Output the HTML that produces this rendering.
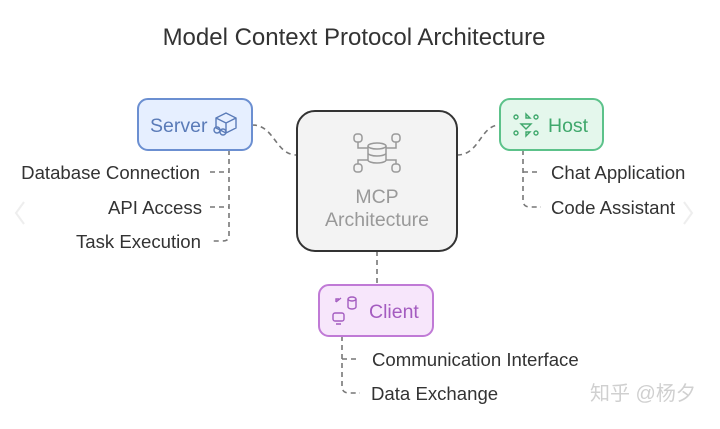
<!DOCTYPE html>
<html><head><meta charset="utf-8"><style>
body{margin:0;width:720px;height:424px;background:#fff;overflow:hidden;font-family:"Liberation Sans","Noto Sans CJK SC",sans-serif;}
</style></head><body>
<svg width="720" height="424" viewBox="0 0 720 424" xmlns="http://www.w3.org/2000/svg" font-family="Liberation Sans, Noto Sans CJK SC, sans-serif">
<text x="354" y="45" text-anchor="middle" font-size="24" fill="#333">Model Context Protocol Architecture</text>
<g fill="none" stroke="#777" stroke-width="1.6" stroke-dasharray="5,4">
<path d="M252 125 C275 125,275 155,297 155"/>
<path d="M457 155 C480 155,480 125,500 125"/>
<path d="M377 251 L377 285"/>
<path d="M229 150 L229 236 Q229 241 222 241 L210 241"/>
<path d="M210 172 L229 172 M210 207 L229 207"/>
<path d="M523 150 L523 200 Q523 207 530 207 L541 207"/>
<path d="M523 172 L541 172"/>
<path d="M342 336 L342 386 Q342 393 349 393 L360 393"/>
<path d="M342 359 L360 359"/>
</g>
<rect x="138" y="99" width="114" height="51" rx="10" fill="#e6efff" stroke="#6b8fd1" stroke-width="2"/>
<text x="150" y="132" font-size="19.5" fill="#5a7bb8">Server</text>
<g fill="none" stroke="#5a7bb8" stroke-width="1.4"><path d="M216 118 l10 -5 l10 5 v10 l-10 5 l-10 -5z M216 118 l10 5 l10 -5 M226 123 v10"/><circle cx="217" cy="130" r="3"/><circle cx="223" cy="132" r="3"/></g>
<rect x="500" y="99" width="103" height="51" rx="10" fill="#e4f7ec" stroke="#5cc28a" stroke-width="2"/>
<text x="548" y="132" font-size="19.5" fill="#3fa86c">Host</text>
<g fill="none" stroke="#3fa86c" stroke-width="1.4"><path d="M526 114 l4 4 l-4 0z M526 136 l4 -4 l-4 0z M521 124 l5 5 l5 -5z"/><circle cx="516" cy="117" r="2"/><circle cx="536" cy="117" r="2"/><circle cx="516" cy="133" r="2"/><circle cx="536" cy="133" r="2"/></g>
<rect x="297" y="111" width="160" height="140" rx="18" fill="#f3f3f3" stroke="#333" stroke-width="2"/>
<g fill="none" stroke="#999" stroke-width="1.5"><ellipse cx="377" cy="146" rx="9" ry="3"/><path d="M368 146 v14 a9 3 0 0 0 18 0 v-14 M368 153 a9 3 0 0 0 18 0"/><rect x="354" y="134" width="8" height="8" rx="3"/><rect x="392" y="134" width="8" height="8" rx="3"/><rect x="354" y="164" width="8" height="8" rx="3"/><rect x="392" y="164" width="8" height="8" rx="3"/><path d="M358 142 v6 h10 M396 142 v6 h-10 M358 164 v-4 h10 M396 164 v-4 h-10"/></g>
<text x="377" y="203" text-anchor="middle" font-size="19.5" fill="#999">MCP</text>
<text x="377" y="226" text-anchor="middle" font-size="19.5" fill="#999">Architecture</text>
<rect x="319" y="285" width="114" height="51" rx="10" fill="#f7e6fb" stroke="#c07ad6" stroke-width="2"/>
<text x="369" y="318" font-size="19.5" fill="#a45cc0">Client</text>
<g fill="none" stroke="#a45cc0" stroke-width="1.4"><rect x="333" y="313" width="11" height="8" rx="2"/><path d="M336 324 h5 M336 302 l5 -4 M336 302 v-3 h3"/><ellipse cx="352" cy="299" rx="4" ry="2"/><path d="M348 299 v8 a4 2 0 0 0 8 0 v-8"/></g>
<g font-size="18.6" fill="#333">
<text x="200" y="179" text-anchor="end">Database Connection</text>
<text x="202" y="214" text-anchor="end">API Access</text>
<text x="201" y="248" text-anchor="end">Task Execution</text>
<text x="551" y="179">Chat Application</text>
<text x="551" y="214">Code Assistant</text>
<text x="372" y="366">Communication Interface</text>
<text x="371" y="400">Data Exchange</text>
</g>
<text x="590" y="400" font-size="20" fill="#d0d0d0">知乎 @杨夕</text>
<path d="M24 202 l-8 11 l8 11" fill="none" stroke="#eee" stroke-width="2"/>
<path d="M684 202 l8 11 l-8 11" fill="none" stroke="#eee" stroke-width="2"/>
</svg>
</body></html>
